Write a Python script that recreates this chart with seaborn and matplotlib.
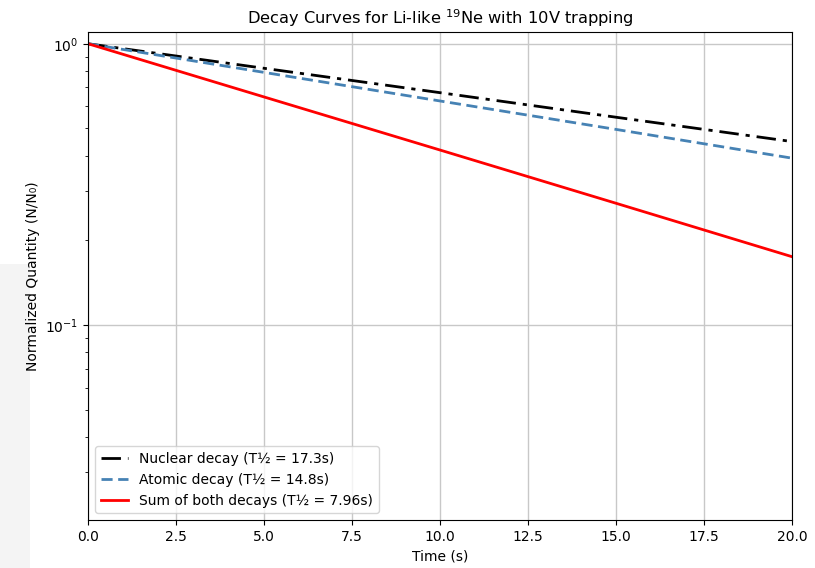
import numpy as np
import pandas as pd
import matplotlib.pyplot as plt
import seaborn as sns
from matplotlib.patches import Rectangle

# values (straight lines on log axis)
time_s = [0, 5, 10, 15, 20]
nuclear = [1.0, 0.818, 0.670, 0.548, 0.449]
atomic = [1.0, 0.791, 0.626, 0.496, 0.392]
combined = [1.0, 0.647, 0.419, 0.271, 0.175]

labels = ['Nuclear decay (T½ = 17.3s)',
          'Atomic decay (T½ = 14.8s)',
          'Sum of both decays (T½ = 7.96s)']

df = pd.DataFrame({
    'Time': time_s * 3,
    'N': nuclear + atomic + combined,
    'Curve': [labels[0]] * 5 + [labels[1]] * 5 + [labels[2]] * 5,
})

plt.rcParams['font.family'] = ['DejaVu Sans']
fig = plt.figure(figsize=(8.15, 5.68), dpi=100)
ax = fig.add_axes([0.108, 0.0845, 0.864, 0.859])

# faint screenshot shade on the left
fig.patches.append(Rectangle((0, 0), 0.037, 0.535, transform=fig.transFigure,
                             facecolor='#f4f4f4', edgecolor='none', zorder=-1))

styles = {labels[0]: ('black', (0, (7, 2.5, 1.5, 2.5))),
          labels[1]: ('#4682b4', (0, (4, 2))),
          labels[2]: ('red', '-')}
for lab in labels:
    color, ls = styles[lab]
    sns.lineplot(data=df[df['Curve'] == lab], x='Time', y='N', ax=ax,
                 color=color, linestyle=ls, linewidth=2, label=lab)

ax.set_yscale('log')
ax.set_xlim(0, 20)
ax.set_ylim(0.0203, 1.1)
ax.set_xticks(np.arange(0, 20.1, 2.5))
ax.grid(True, which='major', color='#c8c8c8', linewidth=1)
ax.set_axisbelow(True)
ax.set_title('Decay Curves for Li-like $^{19}$Ne with 10V trapping', fontsize=11.7)
ax.set_xlabel('Time (s)')
ax.set_ylabel('Normalized Quantity (N/N₀)')
ax.legend(loc='lower left', fontsize=10)

fig.savefig('out.png', dpi=100)
